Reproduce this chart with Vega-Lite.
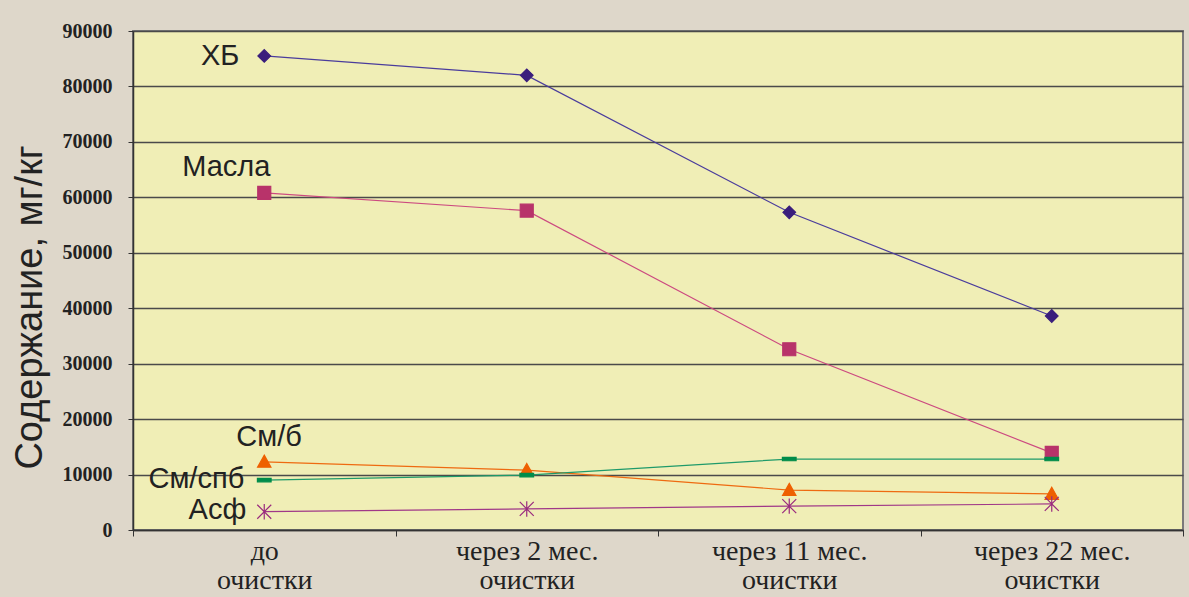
{
  "$schema": "https://vega.github.io/schema/vega-lite/v6.json",
  "width": 1050,
  "height": 499,
  "autosize": {"type": "none"},
  "padding": {"left": 133, "top": 31, "right": 6, "bottom": 67},
  "background": "#DED7CA",
  "config": {
    "view": {"fill": "#F0EEB6", "stroke": "#7a7a7a", "strokeWidth": 2},
    "font": "Liberation Sans"
  },
  "data": {
    "values": [
      {"period": "до очистки", "series": "ХБ", "value": 85500},
      {"period": "через 2 мес. очистки", "series": "ХБ", "value": 82000},
      {"period": "через 11 мес. очистки", "series": "ХБ", "value": 57300},
      {"period": "через 22 мес. очистки", "series": "ХБ", "value": 38600},
      {"period": "до очистки", "series": "Масла", "value": 60800},
      {"period": "через 2 мес. очистки", "series": "Масла", "value": 57600},
      {"period": "через 11 мес. очистки", "series": "Масла", "value": 32600},
      {"period": "через 22 мес. очистки", "series": "Масла", "value": 13900},
      {"period": "до очистки", "series": "См/б", "value": 12300},
      {"period": "через 2 мес. очистки", "series": "См/б", "value": 10800},
      {"period": "через 11 мес. очистки", "series": "См/б", "value": 7200},
      {"period": "через 22 мес. очистки", "series": "См/б", "value": 6500},
      {"period": "до очистки", "series": "См/спб", "value": 9000},
      {"period": "через 2 мес. очистки", "series": "См/спб", "value": 9900},
      {"period": "через 11 мес. очистки", "series": "См/спб", "value": 12800},
      {"period": "через 22 мес. очистки", "series": "См/спб", "value": 12800},
      {"period": "до очистки", "series": "Асф", "value": 3300},
      {"period": "через 2 мес. очистки", "series": "Асф", "value": 3800},
      {"period": "через 11 мес. очистки", "series": "Асф", "value": 4300},
      {"period": "через 22 мес. очистки", "series": "Асф", "value": 4700}
    ]
  },
  "encoding": {
    "x": {
      "field": "period",
      "type": "nominal",
      "sort": null,
      "scale": {"type": "band", "paddingInner": 0, "paddingOuter": 0},
      "axis": {
        "title": null,
        "labelAngle": 0,
        "labelFont": "Liberation Serif",
        "labelFontSize": 28,
        "labelColor": "#222222",
        "labelLineHeight": 29,
        "labelPadding": 1,
        "labelExpr": "datum.label ? [replace(datum.label, ' очистки', ''), 'очистки'] : ''",
        "tickBand": "extent",
        "tickSize": 6,
        "tickColor": "#333333",
        "domainColor": "#333333",
        "domainWidth": 1.5
      }
    },
    "y": {
      "field": "value",
      "type": "quantitative",
      "scale": {"domain": [0, 90000], "nice": false},
      "axis": {
        "title": "Содержание, мг/кг",
        "titleFont": "Liberation Sans",
        "titleFontSize": 38,
        "titleFontWeight": "normal",
        "titleColor": "#222222",
        "titleAngle": -90,
        "titleAlign": "center",
        "titleBaseline": "middle",
        "titleX": -103,
        "titleY": 276,
        "values": [0, 10000, 20000, 30000, 40000, 50000, 60000, 70000, 80000, 90000],
        "format": "d",
        "labelOverlap": false,
        "labelBound": false,
        "labelFont": "Liberation Serif",
        "labelFontWeight": "bold",
        "labelFontSize": 20,
        "labelColor": "#222222",
        "labelPadding": 16,
        "tickSize": 5,
        "tickColor": "#333333",
        "domainColor": "#333333",
        "domainWidth": 1.5,
        "grid": true,
        "gridColor": "#4a4a4a",
        "gridWidth": 1.5
      }
    }
  },
  "layer": [
    {
      "mark": {"type": "line", "strokeWidth": 1.2},
      "encoding": {
        "color": {
          "field": "series",
          "type": "nominal",
          "legend": null,
          "scale": {
            "domain": ["ХБ", "Масла", "См/б", "См/спб", "Асф"],
            "range": ["#4A3C9C", "#CC4A80", "#EE6A10", "#1E9A6A", "#A03888"]
          }
        }
      }
    },
    {
      "mark": {"type": "point", "filled": true, "opacity": 1, "strokeWidth": 1.2},
      "encoding": {
        "fill": {
          "field": "series",
          "type": "nominal",
          "legend": null,
          "scale": {
            "domain": ["ХБ", "Масла", "См/б", "См/спб", "Асф"],
            "range": ["#3A1E7C", "#B8336A", "#EE6000", "#008C4A", "#9A2A7E"]
          }
        },
        "stroke": {
          "field": "series",
          "type": "nominal",
          "legend": null,
          "scale": {
            "domain": ["ХБ", "Масла", "См/б", "См/спб", "Асф"],
            "range": ["#3A1E7C", "#B8336A", "#EE6000", "#008C4A", "#9A2A7E"]
          }
        },
        "shape": {
          "field": "series",
          "type": "nominal",
          "legend": null,
          "scale": {
            "domain": ["ХБ", "Масла", "См/б", "См/спб", "Асф"],
            "range": [
              "diamond",
              "square",
              "M0,-1L1,0.8L-1,0.8Z",
              "M-1,-0.25H1V0.25H-1Z",
              "M-1,-1L1,1M-1,1L1,-1M0,-1.1L0,1.1"
            ]
          }
        },
        "size": {
          "field": "series",
          "type": "nominal",
          "legend": null,
          "scale": {
            "domain": ["ХБ", "Масла", "См/б", "См/спб", "Асф"],
            "range": [160, 196, 256, 256, 196]
          }
        }
      }
    },
    {
      "transform": [{"filter": "datum.series === 'ХБ' && datum.period === 'до очистки'"}],
      "mark": {"type": "text", "align": "right", "baseline": "middle", "dx": -25, "dy": 0, "fontSize": 29, "color": "#222222"},
      "encoding": {"text": {"field": "series"}}
    },
    {
      "transform": [{"filter": "datum.series === 'Масла' && datum.period === 'до очистки'"}],
      "mark": {"type": "text", "align": "center", "baseline": "middle", "dx": -38, "dy": -26, "fontSize": 29, "color": "#222222"},
      "encoding": {"text": {"field": "series"}}
    },
    {
      "transform": [{"filter": "datum.series === 'См/б' && datum.period === 'до очистки'"}],
      "mark": {"type": "text", "align": "left", "baseline": "middle", "dx": -28, "dy": -25, "fontSize": 29, "color": "#222222"},
      "encoding": {"text": {"field": "series"}}
    },
    {
      "transform": [{"filter": "datum.series === 'См/спб' && datum.period === 'до очистки'"}],
      "mark": {"type": "text", "align": "right", "baseline": "middle", "dx": -20, "dy": -1, "fontSize": 29, "color": "#222222"},
      "encoding": {"text": {"field": "series"}}
    },
    {
      "transform": [{"filter": "datum.series === 'Асф' && datum.period === 'до очистки'"}],
      "mark": {"type": "text", "align": "right", "baseline": "middle", "dx": -18, "dy": -2, "fontSize": 29, "color": "#222222"},
      "encoding": {"text": {"field": "series"}}
    }
  ]
}
